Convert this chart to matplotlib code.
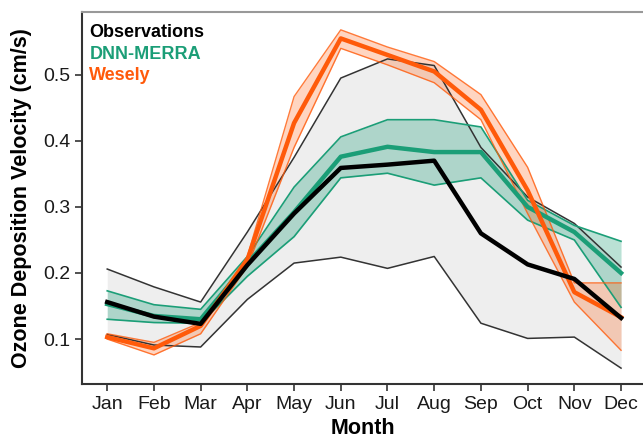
import matplotlib
matplotlib.use('Agg')
import matplotlib.pyplot as plt

months = ['Jan', 'Feb', 'Mar', 'Apr', 'May', 'Jun', 'Jul', 'Aug', 'Sep', 'Oct', 'Nov', 'Dec']

obs_mean = [0.156, 0.134, 0.123, 0.212, 0.290, 0.359, 0.364, 0.370, 0.260, 0.213, 0.191, 0.132]
obs_upper = [0.206, 0.179, 0.156, 0.262, 0.375, 0.495, 0.524, 0.514, 0.390, 0.315, 0.275, 0.209]
obs_lower = [0.107, 0.091, 0.088, 0.160, 0.215, 0.224, 0.207, 0.225, 0.124, 0.101, 0.103, 0.056]

dnn_mean = [0.153, 0.135, 0.130, 0.215, 0.292, 0.376, 0.391, 0.383, 0.383, 0.300, 0.262, 0.200]
dnn_upper = [0.173, 0.152, 0.145, 0.225, 0.330, 0.406, 0.432, 0.432, 0.421, 0.310, 0.272, 0.248]
dnn_lower = [0.130, 0.125, 0.124, 0.195, 0.255, 0.344, 0.351, 0.333, 0.344, 0.280, 0.250, 0.148]

wes_mean = [0.103, 0.086, 0.120, 0.220, 0.427, 0.555, 0.530, 0.505, 0.447, 0.325, 0.171, 0.133]
wes_upper = [0.108, 0.095, 0.125, 0.225, 0.467, 0.568, 0.542, 0.520, 0.470, 0.360, 0.185, 0.185]
wes_lower = [0.100, 0.076, 0.108, 0.210, 0.390, 0.540, 0.515, 0.488, 0.432, 0.290, 0.156, 0.083]

series_names = ['Observations', 'DNN-MERRA', 'Wesely']

GREEN = '#1b9e77'
ORANGE = '#ff5a0a'
x = list(range(1, 13))

plt.rcParams['font.family'] = ['Liberation Sans', 'DejaVu Sans']

fig = plt.figure(figsize=(6.43, 4.41), dpi=100)
ax = fig.add_axes([82 / 643, 57 / 441, 1.0 - 82 / 643, 372 / 441])

# observations envelope
ax.fill_between(x, obs_lower, obs_upper, color='#bdbdbd', alpha=0.25, lw=0)
ax.plot(x, obs_upper, color='#333333', lw=1.1)
ax.plot(x, obs_lower, color='#333333', lw=1.1)

# DNN-MERRA
ax.fill_between(x, dnn_lower, dnn_upper, color=GREEN, alpha=0.3, lw=0)
ax.plot(x, dnn_upper, color=GREEN, lw=1.2)
ax.plot(x, dnn_lower, color=GREEN, lw=1.2)

# Wesely
ax.fill_between(x, wes_lower, wes_upper, color=ORANGE, alpha=0.25, lw=0)
ax.plot(x, wes_upper, color=ORANGE, lw=1.0, alpha=0.8)
ax.plot(x, wes_lower, color=ORANGE, lw=1.0, alpha=0.8)

# means on top
ax.plot(x, dnn_mean, color=GREEN, lw=3.2)
ax.plot(x, wes_mean, color=ORANGE, lw=3.2)
ax.plot(x, obs_mean, color='black', lw=3.2)

ax.set_xlim(0.46, 12.47)
ax.set_ylim(0.032, 0.595)
ax.set_xticks(x)
ax.set_xticklabels(months)
ax.set_yticks([0.1, 0.2, 0.3, 0.4, 0.5])
ax.set_yticklabels(['0.1', '0.2', '0.3', '0.4', '0.5'])
ax.tick_params(axis='both', labelsize=14, length=5, width=1.2, color='#333333', labelcolor='#1a1a1a')

ax.spines['right'].set_visible(False)
ax.spines['top'].set_color('#999999')
ax.spines['top'].set_linewidth(1.5)
for s in ['left', 'bottom']:
    ax.spines[s].set_color('#333333')
    ax.spines[s].set_linewidth(1.5)

ax.set_xlabel('Month', fontsize=15.5, fontweight='bold', labelpad=4)
ax.set_ylabel('Ozone Deposition Velocity (cm/s)', fontsize=15.5, fontweight='bold', labelpad=8)

colors = ['black', GREEN, ORANGE]
for i, (name, c) in enumerate(zip(series_names, colors)):
    ax.text(0.013, 0.946 - i * 0.059, name, color=c, fontsize=13, fontweight='bold',
            transform=ax.transAxes, va='center', ha='left')

fig.savefig('out.png', dpi=100)
